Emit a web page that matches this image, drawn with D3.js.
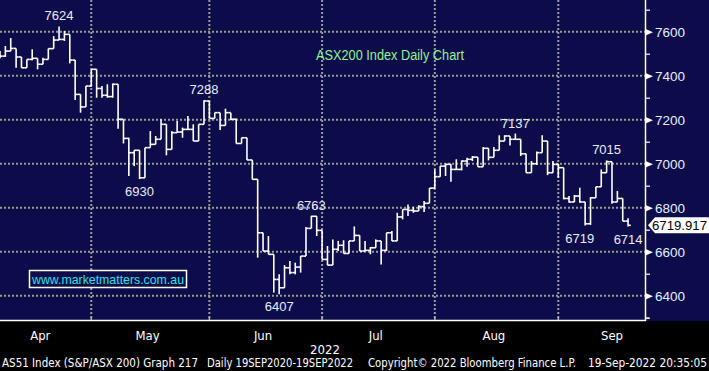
<!DOCTYPE html>
<html>
<head>
<meta charset="utf-8">
<script src="https://cdn.jsdelivr.net/npm/d3@7"></script>
<style>
  body { margin: 0; background: #000; }
  svg { display: block; }
</style>
</head>
<body>
<svg width="709" height="371"></svg>
<script>
// daily bars (index 0 = first visible April day)
let opens = [7495, 7489, 7512, 7524, 7485, 7436, 7474, 7479, 7452, 7474, 7523, 7562, 7565, 7588, 7471, 7315, 7258,
    7353, 7429, 7342, 7311, 7305, 7361, 7202, 7115, 7050, 7061, 6936, 7073, 7088, 7111, 7179, 7065, 7141, 7144, 7156, 7156, 7103, 7179,
    7285, 7206, 7232, 7174, 7232, 7202, 7092, 7118, 7017, 6929, 6686, 6603, 6588, 6474, 6436, 6527, 6505, 6530, 6580, 6706, 6761,
    6697, 6565, 6539, 6611, 6629, 6592, 6649, 6674, 6603, 6606, 6618, 6649, 6606, 6686, 6649, 6758, 6792, 6788, 6785, 6805, 6820,
    6889, 6941, 6989, 6997, 6974, 6974, 7012, 7020, 7030, 6986, 7070, 7029, 7061, 7103, 7126, 7111, 7111, 7045, 6959, 7000, 7050, 7103, 6959,
    6997, 6982, 6842, 6826, 6853, 6826, 6727, 6845, 6895, 6959, 7009, 6826, 6842, 6739]
let highs = [7512, 7535, 7571, 7524, 7485, 7474, 7520, 7479, 7482, 7523, 7580, 7624, 7603, 7588, 7471, 7315, 7353,
    7429, 7429, 7353, 7361, 7365, 7361, 7202, 7118, 7061, 7061, 7073, 7148, 7126, 7202, 7179, 7148, 7194, 7164, 7217, 7179, 7179, 7288,
    7285, 7232, 7232, 7250, 7232, 7205, 7118, 7118, 7017, 6929, 6686, 6671, 6588, 6497, 6539, 6558, 6550, 6580, 6712, 6763, 6761,
    6697, 6626, 6656, 6649, 6652, 6649, 6715, 6674, 6649, 6621, 6656, 6649, 6686, 6694, 6777, 6792, 6815, 6805, 6811, 6830, 6889,
    6974, 6989, 7000, 6997, 7020, 7015, 7027, 7035, 7030, 7076, 7070, 7076, 7129, 7129, 7126, 7137, 7111, 7045, 7012, 7055, 7129, 7103,
    7012, 7000, 6982, 6853, 6858, 6891, 6826, 6848, 6895, 6974, 7015, 7009, 6876, 6842, 6752]
let lows = [7479, 7486, 7512, 7436, 7436, 7436, 7470, 7429, 7452, 7474, 7523, 7562, 7558, 7456, 7289, 7232, 7258,
    7350, 7300, 7300, 7300, 7300, 7159, 7092, 6944, 6989, 6930, 6936, 7073, 7088, 7111, 7038, 7065, 7141, 7118, 7156, 7103, 7103, 7179,
    7206, 7206, 7153, 7174, 7198, 7092, 7092, 7017, 6929, 6573, 6603, 6588, 6414, 6407, 6436, 6497, 6497, 6505, 6580, 6706, 6671,
    6565, 6539, 6539, 6603, 6592, 6592, 6649, 6603, 6603, 6588, 6618, 6542, 6603, 6649, 6649, 6747, 6762, 6777, 6785, 6780, 6820,
    6886, 6941, 6944, 6918, 6974, 6970, 6986, 7012, 6986, 6986, 7015, 7029, 7061, 7103, 7083, 7111, 7035, 6959, 6959, 6994, 7050, 6948,
    6959, 6936, 6838, 6823, 6826, 6823, 6719, 6722, 6845, 6895, 6959, 6818, 6826, 6739, 6714]
let closes = [7489, 7512, 7524, 7485, 7436, 7474, 7479, 7452, 7474, 7523, 7562, 7565, 7588, 7471, 7315, 7258, 7353,
    7429, 7342, 7311, 7305, 7361, 7202, 7115, 7050, 7061, 6936, 7073, 7088, 7111, 7179, 7065, 7141, 7144, 7156, 7156, 7103, 7179, 7285,
    7206, 7232, 7174, 7232, 7202, 7092, 7118, 7017, 6929, 6686, 6603, 6588, 6474, 6436, 6527, 6505, 6530, 6580, 6706, 6761, 6697,
    6565, 6539, 6611, 6629, 6592, 6649, 6674, 6603, 6606, 6618, 6649, 6606, 6686, 6649, 6758, 6792, 6788, 6785, 6805, 6820, 6889,
    6941, 6989, 6997, 6974, 6974, 7012, 7020, 7030, 6986, 7070, 7029, 7061, 7103, 7126, 7111, 7111, 7045, 6959, 7000, 7050, 7103, 6959,
    6997, 6982, 6842, 6826, 6853, 6826, 6727, 6845, 6895, 6959, 7009, 6826, 6842, 6739, 6720]

let months = ["Apr", "May", "Jun", "Jul", "Aug", "Sep"]
let monthStart = [-1, 17, 39, 60, 81, 104]
let monthDays = [18, 22, 21, 21, 23, 21]

let yMajor = [6400, 6600, 6800, 7000, 7200, 7400, 7600]
let yMinor = [6300, 6500, 6700, 6900, 7100, 7300, 7500, 7700]

// annotations: [bar index, value, label, above/below]
let notes = [
    [11, 7624, "7624", "above"],
    [38, 7288, "7288", "above"],
    [26, 6930, "6930", "below"],
    [52, 6407, "6407", "below"],
    [58, 6763, "6763", "above"],
    [96, 7137, "7137", "above"],
    [113, 7015, "7015", "above"],
    [108, 6719, "6719", "below"],
    [117, 6714, "6714", "below"]
]
let lastPrice = "6719.917"

let plotW = 645, plotH = 320
let bg = "#0d0c4a"
let font = "'Liberation Sans', Arial, sans-serif"
let narrow = "'Liberation Sans Narrow', 'DejaVu Sans Condensed', sans-serif"

let x = d3.scaleLinear().domain([0, 120.15]).range([0, plotW])
let y = d3.scaleLinear().domain([6400, 7600]).range([295.7, 31.7])
let step = x(1) - x(0)

let svg = d3.select("svg")

svg.append("rect")
    .attr("width", 709).attr("height", 371).attr("fill", "#000")
svg.append("rect")
    .attr("width", 709).attr("height", plotH + 1).attr("fill", bg)

// grid
let grid = svg.append("g")
grid.selectAll(".hgrid")
    .data(yMajor)
    .join("line")
    .attr("x1", 0).attr("x2", plotW)
    .attr("y1", d => y(d)).attr("y2", d => y(d))
    .attr("stroke", "#9a9a9a")
    .attr("stroke-width", 2)
    .attr("stroke-dasharray", "2,2")
grid.selectAll(".vgrid")
    .data(monthStart.slice(1))
    .join("line")
    .attr("x1", d => x(d)).attr("x2", d => x(d))
    .attr("y1", 0).attr("y2", plotH)
    .attr("stroke", "#9a9a9a")
    .attr("stroke-width", 2)
    .attr("stroke-dasharray", "2,2")

// bars: high-low line, open tick left, close tick right
let bars = svg.append("g")
    .attr("stroke", "#fff")
    .attr("stroke-width", 1.6)
    .attr("fill", "none")
let idx = d3.range(closes.length)
bars.selectAll(".hl")
    .data(idx)
    .join("line")
    .attr("x1", i => x(i)).attr("x2", i => x(i))
    .attr("y1", i => y(highs[i])).attr("y2", i => y(lows[i]))
bars.selectAll(".op")
    .data(idx)
    .join("line")
    .attr("x1", i => x(i) - step / 2).attr("x2", i => x(i))
    .attr("y1", i => y(opens[i])).attr("y2", i => y(opens[i]))
bars.selectAll(".cl")
    .data(idx)
    .join("line")
    .attr("x1", i => x(i)).attr("x2", i => x(i) + step / 2)
    .attr("y1", i => y(closes[i])).attr("y2", i => y(closes[i]))

// value notes
svg.append("g").selectAll("text")
    .data(notes)
    .join("text")
    .attr("x", d => x(d[0]))
    .attr("y", d => d[3] == "above" ? y(d[1]) - 6 : y(d[1]) + 17)
    .attr("text-anchor", "middle")
    .attr("fill", "#e6ecff")
    .style("font-family", font)
    .style("font-size", "13px")
    .text(d => d[2])

// title
svg.append("text")
    .attr("x", 316).attr("y", 60)
    .attr("textLength", 148)
    .attr("lengthAdjust", "spacingAndGlyphs")
    .attr("fill", "#92f292")
    .style("font-family", font)
    .style("font-size", "14px")
    .text("ASX200 Index Daily Chart")

// website box
svg.append("rect")
    .attr("x", 29.5).attr("y", 270.5).attr("width", 157).attr("height", 17)
    .attr("fill", bg).attr("stroke", "#fff").attr("stroke-width", 1.5)
svg.append("text")
    .attr("x", 32).attr("y", 284)
    .attr("textLength", 152)
    .attr("lengthAdjust", "spacingAndGlyphs")
    .attr("fill", "#2de0e6")
    .style("font-family", font)
    .style("font-size", "13px")
    .text("www.marketmatters.com.au")

// right axis
let yAxis = d3.axisRight(y).tickValues(yMajor).tickSize(0).tickPadding(10).tickFormat(d3.format("d"))
let ya = svg.append("g")
    .attr("transform", "translate(" + plotW + ",0)")
    .call(yAxis)
ya.select(".domain").remove()
ya.selectAll("text")
    .attr("fill", "#e6ecff")
    .style("font-family", font)
    .style("font-size", "13.5px")
ya.selectAll(".tick").append("path")
    .attr("d", "M0,-3.5L8,0L0,3.5Z")
    .attr("fill", "#fff")
let yMinorAxis = d3.axisRight(y).tickValues(yMinor).tickSize(5).tickFormat("")
let ym = svg.append("g")
    .attr("transform", "translate(" + plotW + ",0)")
    .call(yMinorAxis)
ym.select(".domain").remove()
ym.selectAll("line").attr("stroke", "#fff").attr("stroke-width", 1.2)
svg.append("line")
    .attr("x1", plotW + 0.5).attr("x2", plotW + 0.5)
    .attr("y1", 0).attr("y2", plotH + 1)
    .attr("stroke", "#fff").attr("stroke-width", 1.5)

// last price tag
let ly = y(closes[closes.length - 1])
svg.append("path")
    .attr("d", "M648," + ly + "L655," + (ly - 8) + "L709," + (ly - 8) + "L709," + (ly + 8) + "L655," + (ly + 8) + "Z")
    .attr("fill", "#fff")
svg.append("text")
    .attr("x", 652).attr("y", ly + 5)
    .attr("textLength", 55)
    .attr("lengthAdjust", "spacingAndGlyphs")
    .attr("fill", "#000")
    .style("font-family", font)
    .style("font-size", "13px")
    .text(lastPrice)

// bottom axis
svg.append("line")
    .attr("x1", 0).attr("x2", plotW + 1)
    .attr("y1", plotH + 0.5).attr("y2", plotH + 0.5)
    .attr("stroke", "#fff").attr("stroke-width", 1.5)
svg.append("line")
    .attr("x1", plotW).attr("x2", plotW + 4)
    .attr("y1", plotH - 2).attr("y2", plotH - 2)
    .attr("stroke", "#fff").attr("stroke-width", 1)
svg.append("g").selectAll("line")
    .data(monthStart.slice(1))
    .join("line")
    .attr("x1", d => x(d)).attr("x2", d => x(d))
    .attr("y1", plotH - 3).attr("y2", plotH)
    .attr("stroke", "#bbb").attr("stroke-width", 1.5)
svg.append("g").selectAll("text")
    .data(months)
    .join("text")
    .attr("x", (d, i) => x(monthStart[i] + monthDays[i] / 2 - 0.5))
    .attr("y", 340)
    .attr("text-anchor", "middle")
    .attr("fill", "#fff")
    .style("font-family", narrow)
    .style("font-size", "13px")
    .text(d => d)
svg.append("text")
    .attr("x", 325).attr("y", 354)
    .attr("text-anchor", "middle")
    .attr("fill", "#fff")
    .style("font-family", narrow)
    .style("font-size", "13px")
    .text("2022")

// footer
let footer = [
    [2, 196, "AS51 Index (S&P/ASX 200) Graph 217"],
    [207, 146, "Daily 19SEP2020-19SEP2022"],
    [368, 208, "Copyright\u00a9 2022 Bloomberg Finance L.P."],
    [588, 119, "19-Sep-2022 20:35:05"]
]
svg.append("g").selectAll("text")
    .data(footer)
    .join("text")
    .attr("x", d => d[0]).attr("y", 367)
    .attr("textLength", d => d[1])
    .attr("lengthAdjust", "spacingAndGlyphs")
    .attr("fill", "#fff")
    .style("font-family", narrow)
    .style("font-size", "12px")
    .text(d => d[2])
</script>
</body>
</html>
